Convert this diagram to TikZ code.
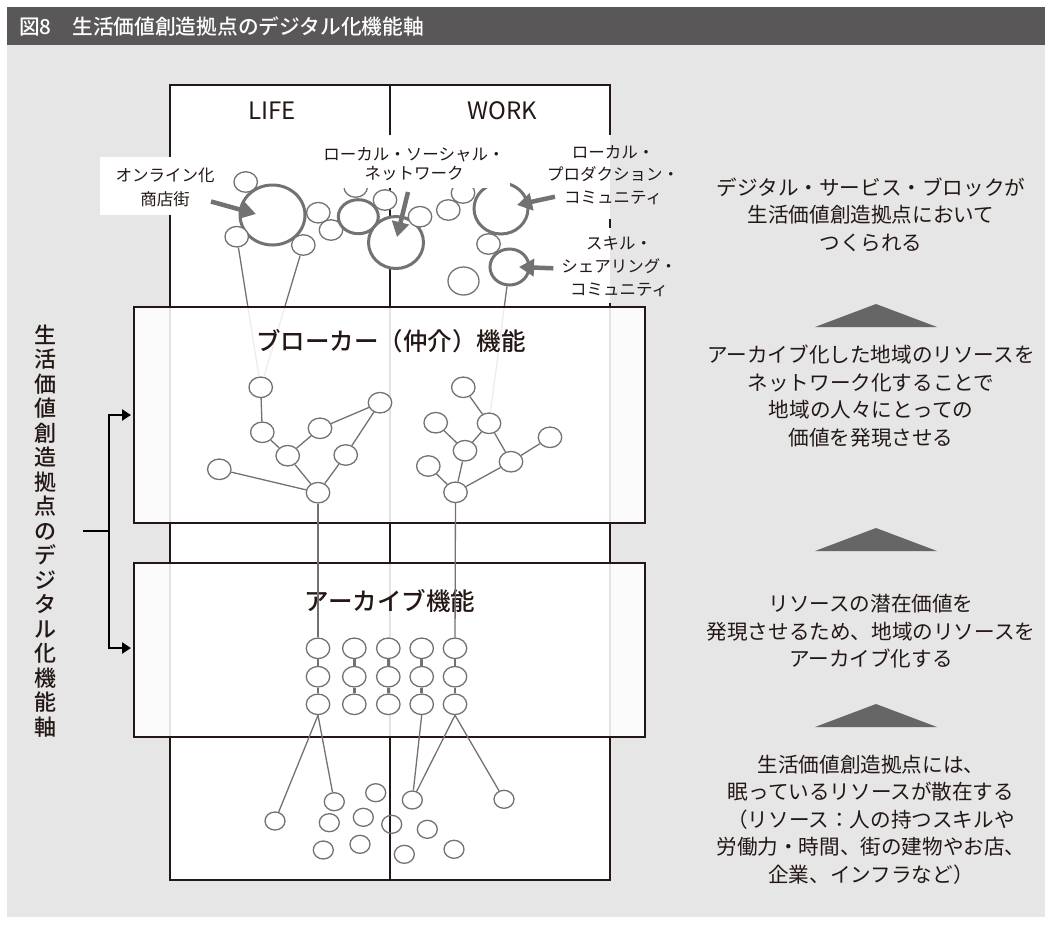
\documentclass[tikz,border=0pt]{standalone}
\usepackage{fontspec}
\setmainfont{Noto Sans CJK JP}
\newfontfamily\jpmed{Noto Sans CJK JP Medium}
\usetikzlibrary{shapes.geometric,arrows.meta}
\definecolor{bggray}{HTML}{E6E6E6}
\definecolor{titlebar}{HTML}{595757}
\definecolor{cg}{HTML}{727272}
\definecolor{fc}{HTML}{231815}
\definecolor{tx}{HTML}{231815}
\definecolor{tg}{HTML}{666666}
\pgfdeclarelayer{bg}
\pgfdeclarelayer{under}
\pgfdeclarelayer{panel}
\pgfsetlayers{bg,under,panel,main}
\tikzset{
  sc/.style={ellipse, draw=cg, line width=1.3pt, fill=white, minimum width=23.5pt, minimum height=20.5pt, inner sep=0pt},
  ac/.style={sc},
  dc/.style={ellipse, draw=cg, line width=1.3pt, minimum width=20pt, minimum height=18pt, inner sep=0pt},
  bc/.style={ellipse, draw=cg, line width=3pt, fill=white, inner sep=0pt},
  ln/.style={draw=cg, line width=1.3pt},
  lk/.style={draw=cg, line width=2.8pt},
  arr/.style={draw=cg, line width=4.5pt, -{Triangle[length=15pt,width=17pt]}},
  frame/.style={draw=fc, line width=1.3pt},
  lbl/.style={font=\fontsize{16.5}{19}\selectfont, align=center, inner sep=0pt, text=tx},
  rt/.style={font=\fontsize{20.6}{27.5}\selectfont, align=center, inner sep=0pt, text=tx},
  pt/.style={font=\jpmed\fontsize{24.5}{28}\selectfont, inner sep=0pt, text=tx},
  panel/.style={draw=fc, line width=1.3pt, fill=white, fill opacity=0.88},
  brk/.style={draw=black, line width=2.4pt},
}
\begin{document}
\begin{tikzpicture}[x=1pt,y=-1pt]
\useasboundingbox (0,0) rectangle (1052,927);
\begin{pgfonlayer}{bg}
  \fill[bggray] (7,45) rectangle (1045,917);
  \fill[titlebar] (7,7) rectangle (1045,45);
  \fill[white] (170,85) rectangle (610,880);
  \draw[frame] (170,157) -- (170,85) -- (610,85) -- (610,135);
  \draw[frame] (610,219) -- (610,228);
  \draw[frame] (610,303) -- (610,880) -- (170,880) -- (170,215);
  \draw[frame] (390,85) -- (390,135);
  \draw[frame] (390,188) -- (390,880);
\end{pgfonlayer}
\begin{pgfonlayer}{panel}
  \path[panel] (134,307) rectangle (645,523);
  \path[panel] (134,563) rectangle (645,737);
\end{pgfonlayer}

% title
\node[anchor=west, text=white, font=\jpmed\fontsize{20.7}{24}\selectfont, inner sep=0pt] (title) at (19,26.5) {図8　生活価値創造拠点のデジタル化機能軸};

% LIFE / WORK
\node[font=\fontsize{24}{26}\selectfont, text=tx, inner sep=0pt] (life) at (272,110.5) {LIFE};
\node[font=\fontsize{24}{26}\selectfont, text=tx, inner sep=0pt] (work) at (502,110.5) {WORK};

% top circles
\node[sc] (t1) at (245.7,182) {};
\node[bc, minimum width=65pt, minimum height=60pt] (os) at (272.5,215) {};
\node[sc] (t2) at (236.7,236.7) {};
\node[sc] (t3) at (303.3,245) {};
\node[sc] (t4) at (318.3,212.7) {};
\node[sc] (t5) at (331,230) {};
\node[bc, minimum width=40pt, minimum height=34pt] (ls0) at (358.3,216.7) {};
\node[sc] (t6) at (355.7,187) {};
\node[sc] (t7) at (385,200) {};
\node[bc, minimum width=55pt, minimum height=52pt] (lsn) at (396,242.5) {};
\node[sc] (t8) at (420,216.7) {};
\node[sc] (t9) at (448.3,210) {};
\node[sc] (t10) at (463,193) {};
\node[bc, minimum width=54pt, minimum height=51pt] (lpc) at (501,208.5) {};
\node[sc] (t11) at (488.5,244) {};
\node[bc, minimum width=39pt, minimum height=36pt] (ssc) at (509.5,267) {};
\node[sc, minimum width=31pt, minimum height=28pt] (t12) at (463.5,281) {};

% label backgrounds
\fill[white] (100,157) rectangle (231,215);
\fill[white] (318,135) rectangle (510,188);

% labels
\node[lbl, font=\fontsize{16.5}{24}\selectfont] (l1) at (165,187.5) {オンライン化\\商店街};
\node[lbl] (l2) at (414,164) {ローカル・ソーシャル・\\ネットワーク};
\node[lbl, font=\fontsize{16.5}{22.5}\selectfont] (l3) at (613,175) {ローカル・\\プロダクション・\\コミュニティ};
\node[lbl, font=\fontsize{16.5}{23}\selectfont] (l4) at (619,266.5) {スキル・\\シェアリング・\\コミュニティ};

% label arrows
\coordinate (a1s) at (211,201.5);
\coordinate (a1e) at (256,214);
\coordinate (a2s) at (408,192);
\coordinate (a2e) at (397,237);
\coordinate (a3s) at (555,196.7);
\coordinate (a3e) at (517,205);
\coordinate (a4s) at (553.3,268.3);
\coordinate (a4e) at (519,267);
\draw[arr] (a1s) -- (a1e);
\draw[arr] (a2s) -- (a2e);
\draw[arr] (a3s) -- (a3e);
\draw[arr] (a4s) -- (a4e);

% broker panel
\node[pt] (bt) at (391,341) {ブローカー（仲介）機能};
\node[sc] (n1) at (260.7,387.3) {};
\node[sc] (n2) at (262.3,432.3) {};
\node[sc] (n3) at (287.7,455.7) {};
\node[sc] (n4) at (320,428.3) {};
\node[sc] (n5) at (380,402.7) {};
\node[sc] (n6) at (345.7,455) {};
\node[sc] (n7) at (219.3,469.3) {};
\node[sc] (n8) at (318,492.7) {};
\node[sc] (m1) at (463.3,387.3) {};
\node[sc] (m2) at (489,423.3) {};
\node[sc] (m3) at (435.7,422.7) {};
\node[sc] (m4) at (465,450.7) {};
\node[sc] (m5) at (550,437.3) {};
\node[sc] (m6) at (511,461.7) {};
\node[sc] (m7) at (428.3,466) {};
\node[sc] (m8) at (455.5,492.3) {};
\draw[ln] (n1) -- (n2);
\draw[ln] (n2) -- (n3);
\draw[ln] (n3) -- (n4);
\draw[ln] (n4) -- (n5);
\draw[ln] (n5) -- (n6);
\draw[ln] (n3) -- (n8);
\draw[ln] (n6) -- (n8);
\draw[ln] (n7) -- (n8);
\draw[ln] (m1) -- (m2);
\draw[ln] (m2) -- (m4);
\draw[ln] (m3) -- (m4);
\draw[ln] (m4) -- (m8);
\draw[ln] (m2) -- (m6);
\draw[ln] (m6) -- (m5);
\draw[ln] (m6) -- (m8);
\draw[ln] (m7) -- (m8);

% faint lines under the panel
\begin{pgfonlayer}{under}
  \draw[ln] (t2) -- (n1);
  \draw[ln] (t3) -- (n1);
  \draw[ln] (ssc) -- (m2);
\end{pgfonlayer}

% archive panel
\node[pt] (at) at (390,601) {アーカイブ機能};
\foreach \c/\x in {1/318,2/354.3,3/388.3,4/421.7,5/455}{
  \node[ac] (a\c1) at (\x,648.3) {};
  \node[ac] (a\c2) at (\x,676.7) {};
  \node[ac] (a\c3) at (\x,704.3) {};
  \draw[lk] (a\c1) -- (a\c2);
  \draw[lk] (a\c2) -- (a\c3);
}
\draw[ln] (n8) -- (a11);
\draw[ln] (m8) -- (a51);

% scattered resources
\node[dc] (s1) at (275,821) {};
\node[dc] (s2) at (334.3,801.7) {};
\node[dc] (s3) at (375.7,792.7) {};
\node[dc] (s4) at (329.3,822.7) {};
\node[dc] (s5) at (363.3,817.3) {};
\node[dc] (s6) at (323.3,850) {};
\node[dc] (s7) at (360,844.3) {};
\node[dc] (s8) at (391.7,824.3) {};
\node[dc] (s9) at (412.3,800) {};
\node[dc] (s10) at (427.3,829.3) {};
\node[dc] (s11) at (404.3,854.3) {};
\node[dc] (s12) at (454,849.3) {};
\node[dc] (s13) at (504,799.3) {};
\draw[ln] (a13.south) -- (s1);
\draw[ln] (a13.south) -- (s2);
\draw[ln] (a43.south) -- (s9);
\draw[ln] (a53.south) -- (s9);
\draw[ln] (a53.south) -- (s13);

% bracket and vertical title
\coordinate (bk1) at (131,415);
\coordinate (bk2) at (131,648);
\coordinate (bkm) at (109,531);
\coordinate (bkt) at (83,531);
\draw[brk, {Triangle[length=9pt,width=11pt]}-{Triangle[length=9pt,width=11pt]}] (bk1) -- (109,415) -- (109,648) -- (bk2);
\draw[brk] (bkt) -- (bkm);
\node[align=center, inner sep=0pt, text=tx, font=\jpmed\fontsize{22}{24.5}\selectfont] (vt) at (45,531)
  {生\\活\\価\\値\\創\\造\\拠\\点\\の\\デ\\ジ\\タ\\ル\\化\\機\\能\\軸};

% right-hand explanations
\node[rt] (r1) at (871,214.5) {デジタル・サービス・ブロックが\\生活価値創造拠点において\\つくられる};
\node[rt] (r2) at (871,396) {アーカイブ化した地域のリソースを\\ネットワーク化することで\\地域の人々にとっての\\価値を発現させる};
\node[rt] (r3) at (871,631.5) {リソースの潜在価値を\\発現させるため、地域のリソースを\\アーカイブ化する};
\node[rt] (r4) at (871,819.5) {生活価値創造拠点には、\\眠っているリソースが散在する\\（リソース：人の持つスキルや\\労働力・時間、街の建物やお店、\\企業、インフラなど）};
\fill[tg] (815,327) -- (876,304) -- (937,327) -- cycle;
\fill[tg] (815,551) -- (876,528) -- (937,551) -- cycle;
\fill[tg] (815,727) -- (876,704) -- (937,727) -- cycle;
\end{tikzpicture}
\end{document}
